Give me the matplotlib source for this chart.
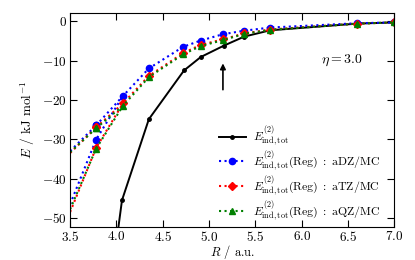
import numpy as np
import matplotlib
matplotlib.use('Agg')
import matplotlib.pyplot as plt

plt.rcParams['font.family'] = 'serif'
plt.rcParams['font.serif'] = ['cmr10', 'DejaVu Serif']
plt.rcParams['mathtext.fontset'] = 'cm'
plt.rcParams['axes.formatter.use_mathtext'] = True
plt.rcParams['axes.unicode_minus'] = True

# reference curve
r_tot = [3.78, 4.06, 4.35, 4.73, 4.91, 5.16, 5.38, 5.66, 6.6, 7.0]
e_tot = [-95.0, -45.5, -24.9, -12.5, -9.1, -6.2, -3.9, -2.3, -0.6, -0.3]

# regularised, main branch
r_reg = [3.78, 4.07, 4.35, 4.72, 4.91, 5.15, 5.38, 5.66, 6.6, 7.0]
e_adz = [-26.5, -19.0, -12.0, -6.5, -4.9, -3.3, -2.4, -1.6, -0.5, -0.3]
e_atz = [-27.0, -20.9, -13.9, -8.1, -6.0, -4.6, -3.1, -2.1, -0.6, -0.3]
e_aqz = [-27.2, -21.5, -14.2, -8.4, -6.3, -4.8, -3.2, -2.2, -0.6, -0.3]

# regularised, left tails
r_up = [3.5, 3.78]
up_adz = [-33.0, -26.5]
up_atz = [-33.5, -27.0]
up_aqz = [-33.3, -27.2]
r_low = [3.5, 3.78, 4.07]
low_adz = [-46.5, -30.1, -19.0]
low_atz = [-48.5, -32.2, -20.9]
low_aqz = [-47.8, -32.4, -21.5]

fig = plt.figure(figsize=(4.15, 2.6), dpi=100)
ax = fig.add_axes([0.169, 0.127, 0.781, 0.823])

ax.plot(r_tot, e_tot, 'k-', marker='.', ms=5, lw=1.4,
        label=r'$E^{(2)}_{\rm ind,tot}$')

series = [(e_adz, up_adz, low_adz, 'b', 'o', 4.5, 'aDZ/MC'),
          (e_atz, up_atz, low_atz, 'r', 'D', 4, 'aTZ/MC'),
          (e_aqz, up_aqz, low_aqz, 'g', '^', 4.5, 'aQZ/MC')]
for e, up, low, c, m, s, name in series:
    ax.plot(r_reg, e, color=c, ls=':', lw=1.5, marker=m, ms=s, mec=c,
            label=r'$E^{(2)}_{\rm ind,tot}(\rm Reg)\ :\ \rm %s$' % name)
    ax.plot(r_up, up, color=c, ls=':', lw=1.5, marker=m, ms=s, mec=c, markevery=[1])
    ax.plot(r_low, low, color=c, ls=':', lw=1.5, marker=m, ms=s, mec=c, markevery=[1])

ax.annotate('', xy=(5.15, -10.0), xytext=(5.15, -18.1),
            arrowprops=dict(arrowstyle='-|>', color='k', lw=1.2, mutation_scale=8))
ax.text(6.43, -10.0, r'$\eta = 3.0$', ha='center', va='center', fontsize=10)

ax.set_xlim(3.5, 7.0)
ax.set_ylim(-52.3, 2.1)
ax.set_xticks(np.arange(3.5, 7.01, 0.5))
ax.set_yticks([-50, -40, -30, -20, -10, 0])
ax.tick_params(direction='in', top=True, right=True, length=5, labelsize=9.5, pad=2)
ax.set_xlabel(r'$R$ / a.u.', fontsize=9, labelpad=-0.5)
ax.set_ylabel(r'$E$ / kJ mol$^{-1}$', fontsize=9.5, labelpad=4)

ax.legend(loc='lower right', bbox_to_anchor=(0.99, -0.03), frameon=False,
          fontsize=8.5, handlelength=2.3, handletextpad=0.6,
          labelspacing=0.1, numpoints=1)

fig.savefig('out.png', dpi=100)
